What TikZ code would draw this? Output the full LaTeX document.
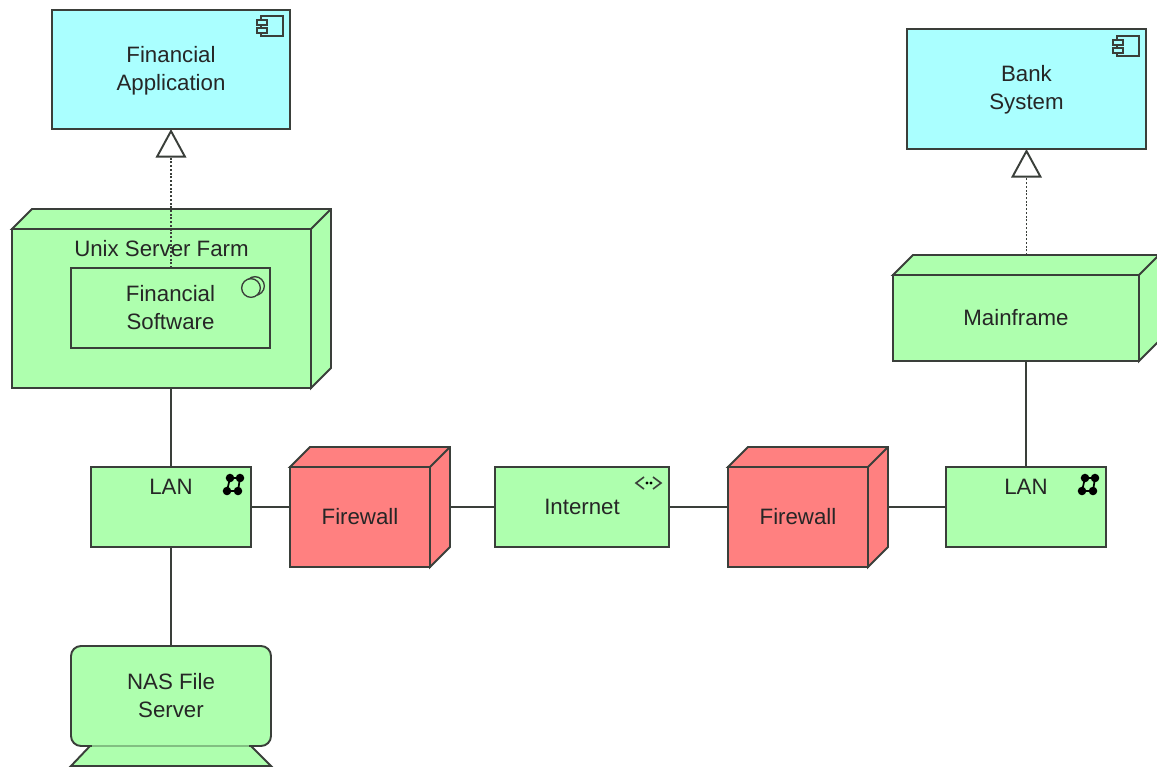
\documentclass[tikz,border=0pt]{standalone}
\usepackage{fontspec}
\setmainfont{Liberation Sans}
\usetikzlibrary{arrows.meta,calc}
\definecolor{appc}{HTML}{AAFFFF}
\definecolor{techc}{HTML}{AEFFAE}
\definecolor{firec}{HTML}{FF8080}
\definecolor{ink}{HTML}{3A3F3A}
\tikzset{
  stroke/.style={draw=ink,line width=1.45pt,line join=miter},
  txt/.style={font=\fontsize{16.7}{21}\selectfont,text=black!85,align=center,inner sep=0pt},
  boxnode/.style args={#1/#2/#3}{stroke,fill=#1,rectangle,inner sep=0pt,outer sep=0pt,
    minimum width=#2*0.75pt,minimum height=#3*0.75pt,txt},
  conn/.style={stroke},
  realize/.style={draw=ink,line width=1.45pt,dash pattern=on 1.5pt off 1.3pt,
    -{Triangle[open,fill=white,length=21.5pt,width=23pt,line width=1.45pt]}},
  icon/.style={draw=ink,line width=1pt,fill=none},
  netdot/.style={fill=black,draw=none}
}
\newcommand{\boxfaces}[2]{%
  \draw[stroke,fill=#2] (#1.north west) -- ++(20,-20) -- ($(#1.north east)+(20,-20)$)
    -- ($(#1.south east)+(20,-20)$) -- (#1.south east) -- (#1.north east) -- cycle;
  \draw[stroke] (#1.north east) -- ++(20,-20);
  \coordinate (#1-r) at ($(#1.east)+(20,-10)$);
  \coordinate (#1-t) at ($(#1.north)+(10,-20)$);
}
\newcommand{\compicon}[2]{%
  \begin{scope}[shift={(#1,#2)}]
    \draw[icon] (3,0) rectangle (25,20);
    \draw[icon,fill=appc] (-1,4) rectangle (9,9);
    \draw[icon,fill=appc] (-1,12) rectangle (9,17);
  \end{scope}}
\newcommand{\neticon}[2]{%
  \begin{scope}[shift={(#1,#2)}]
    \draw[draw=black,line width=1.3pt] (7,4) -- (17,4) -- (15,17) -- (4,17) -- cycle;
    \foreach \p/\q in {7/4,17/4,15/17,4/17} \fill[netdot] (\p,\q) circle (3.2pt);
  \end{scope}}
\begin{document}
\begin{tikzpicture}[x=0.75pt,y=-0.75pt]
\useasboundingbox (0,0) rectangle (1157,768);
\clip (0,0) rectangle (1157,768);
% application components
\node[boxnode=appc/238/119] (app) at (171,69.5) {};
\node[txt] (applabel) at (171,70.5) {Financial\\Application};
\node[boxnode=appc/239/120] (bank) at (1026.5,89) {};
\node[txt] (banklabel) at (1026.5,90) {Bank\\System};
\compicon{258}{16}
\compicon{1114}{36}
% nodes
\node[boxnode=techc/299/159] (unix) at (161.5,308.5) {};
\boxfaces{unix}{techc}
\node[txt] (unixlabel) at (161.5,249) {Unix Server Farm};
\node[boxnode=techc/199/80] (soft) at (170.5,308) {Financial\\Software};
\draw[icon] (255,286) circle (7pt);
\draw[icon,fill=techc] (251,288) circle (7pt);
\node[boxnode=techc/160/80] (lan1) at (171,507) {};
\node[txt] (lan1label) at (171,487) {LAN};
\neticon{223}{474}
\node[boxnode=firec/140/100] (fw1) at (360,517) {Firewall};
\boxfaces{fw1}{firec}
\node[boxnode=techc/174/80] (inet) at (582,507) {Internet};
\draw[icon,line width=1.2pt] (644,477) -- (636,483) -- (644,489);
\draw[icon,line width=1.2pt] (653,477) -- (661,483) -- (653,489);
\fill[black] (647,483) circle (1.2pt) (651,483) circle (1.2pt);
\node[boxnode=firec/140/100] (fw2) at (798,517) {Firewall};
\boxfaces{fw2}{firec}
\node[boxnode=techc/160/80] (lan2) at (1026,507) {};
\node[txt] (lan2label) at (1026,487) {LAN};
\neticon{1078}{474}
\node[boxnode=techc/246/86] (main) at (1016,318) {Mainframe};
\boxfaces{main}{techc}
% NAS device
\draw[stroke,fill=techc] (90,746) -- (71,766) -- (271,766) -- (251,746) -- cycle;
\node[boxnode=techc/200/100,rounded corners=7.5pt] (nas) at (171,696) {NAS File\\Server};
\draw[draw=techc!75!black,line width=1.45pt] (92,746) -- (249,746);
% connectors
\draw[conn] (lan1.north |- unix.south) -- (lan1.north);
\draw[conn] (lan1.south) -- (nas.north);
\draw[conn] (lan1.east) -- (lan1.east -| fw1.west);
\draw[conn] (fw1-r) -- (inet.west);
\draw[conn] (inet.east) -- (inet.east -| fw2.west);
\draw[conn] (fw2-r) -- (lan2.west);
\draw[conn] (lan2.north |- main.south) -- (lan2.north);
\draw[realize] (soft.north -| app.south) -- (app.south);
\draw[realize] (bank.south |- main-t) -- (bank.south);
\end{tikzpicture}
\end{document}
